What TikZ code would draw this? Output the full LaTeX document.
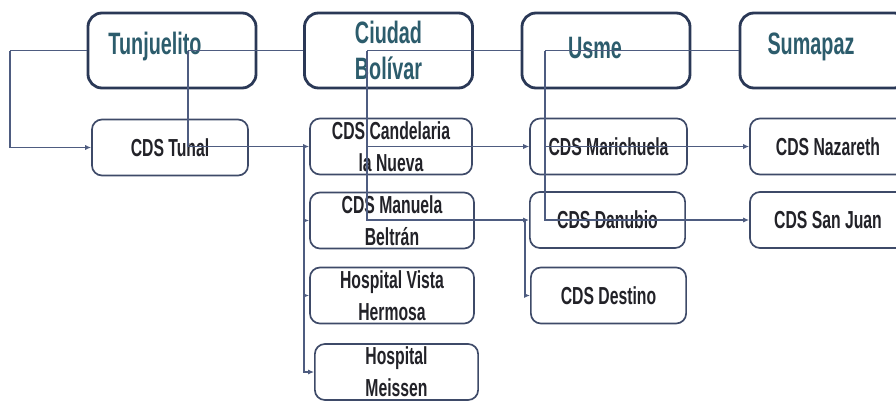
\documentclass[tikz,border=0pt]{standalone}
\usepackage{fontspec}
\setmainfont{Liberation Sans}
\newfontfamily\angosta[FakeStretch=0.64]{Liberation Sans}
\usetikzlibrary{arrows.meta,positioning}
\definecolor{borde}{RGB}{42,56,86}
\definecolor{bordecds}{RGB}{62,74,104}
\definecolor{linea}{RGB}{78,92,128}
\definecolor{tealtxt}{RGB}{44,92,108}
\definecolor{cdstxt}{RGB}{34,34,40}

\begin{document}
\begin{tikzpicture}[
    x=0.025cm, y=-0.025cm,
    zona/.style={rectangle, rounded corners=0.35cm, draw=borde, line width=2pt, fill=white, minimum width=4.2cm, minimum height=1.875cm},
    zonatxt/.style={font=\angosta\bfseries\fontsize{22}{25.5}\selectfont, text=tealtxt, align=center},
    cds/.style={rectangle, rounded corners=0.25cm, draw=bordecds, line width=1.2pt, fill=white, minimum width=4cm, minimum height=1.4cm, inner sep=0pt, font=\angosta\bfseries\fontsize{17.5}{22.5}\selectfont, text=cdstxt, align=center},
    enlace/.style={draw=linea, line width=0.9pt},
    flecha/.style={enlace, -{Latex[length=1.5mm,width=1.3mm]}}
]
    \useasboundingbox (0,0) rectangle (896,401);
    \clip (0,0) rectangle (896,401);

    % localidades
    \node[zona, label={[zonatxt, xshift=-0.425cm, yshift=0.1cm]center:Tunjuelito}] (tunj) at (172,50.5) {};
    \node[zona, label={[zonatxt]center:Ciudad\\Bolívar}] (ciudad) at (388.5,50.5) {};
    \node[zona, label={[zonatxt, xshift=-0.275cm, yshift=0.05cm]center:Usme}] (usme) at (606,50.5) {};
    \node[zona, label={[zonatxt, xshift=-0.325cm, yshift=0.08cm]center:Sumapaz}] (sumapaz) at (824,50.5) {};

    % centros de salud
    \node[cds, minimum width=3.9cm] (tunal) at (170,147.5) {CDS Tunal};
    \node[cds, minimum width=4.05cm] (candelaria) at (391,146.5) {CDS Candelaria\\la Nueva};
    \node[cds, minimum width=4.1cm] (manuela) at (392,220.5) {CDS Manuela\\Beltrán};
    \node[cds, minimum width=4.1cm] (vista) at (392,295.5) {Hospital Vista\\Hermosa};
    \node[cds, minimum width=4.08cm] (meissen) at (396.5,372) {Hospital\\Meissen};
    \node[cds, minimum width=3.92cm] (marichuela) at (608.5,146.5) {CDS Marichuela};
    \node[cds, minimum width=3.88cm] (danubio) at (607.5,220) {CDS Danubio};
    \node[cds, minimum width=3.88cm] (destino) at (608.5,295.5) {CDS Destino};
    \node[cds, minimum width=3.9cm] (nazareth) at (828,146.5) {CDS Nazareth};
    \node[cds, minimum width=3.9cm] (sanjuan) at (828,220) {CDS San Juan};

    % conectores
    \coordinate (izq) at (10,50.5);
    \coordinate (tjx) at (188,50.5);
    \coordinate (cbx) at (304,146.5);
    \coordinate (cdx) at (367,50.5);
    \coordinate (usx) at (545,50.5);
    \coordinate (dnx) at (525,220);

    \draw[enlace] (tunj.west) -- (izq);
    \draw[flecha] (izq) |- (tunal.west);
    \draw[enlace] (tjx) -- (ciudad.west);
    \draw[flecha] (tjx) |- (candelaria.west);
    \foreach \n in {manuela,vista,meissen}
        \draw[flecha] (cbx) |- (\n.west);
    \draw[enlace] (cdx) -- (usme.west);
    \draw[flecha] (cdx) |- (marichuela.west);
    \draw[flecha] (cdx) |- (danubio.west);
    \draw[enlace] (usx) -- (sumapaz.west);
    \draw[flecha] (usx) |- (nazareth.west);
    \draw[flecha] (usx) |- (sanjuan.west);
    \draw[flecha] (dnx) |- (destino.west);
\end{tikzpicture}
\end{document}
